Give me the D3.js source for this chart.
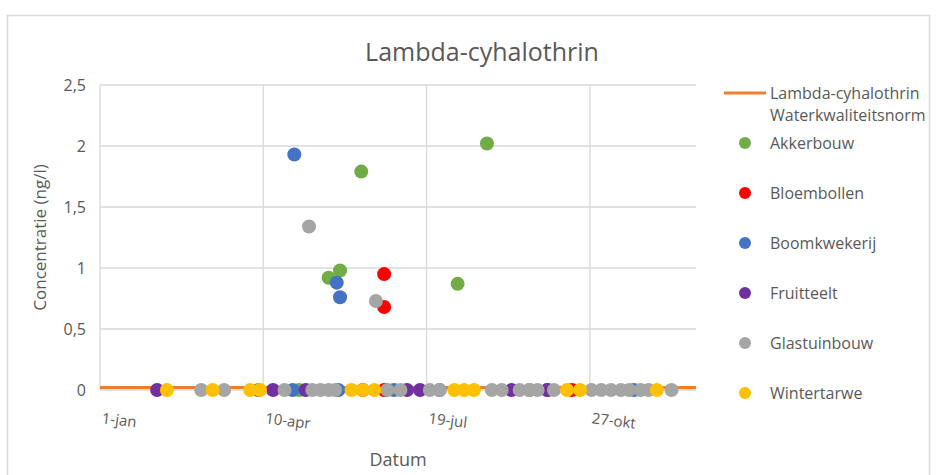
<!DOCTYPE html>
<html>
<head>
<meta charset="utf-8">
<script src="https://cdn.jsdelivr.net/npm/d3@7"></script>
<style>
  body { margin: 0; background: #fff; }
  text { font-family: "Open Sans", Lato, sans-serif; fill: #595959; }
</style>
</head>
<body>
<div id="chart"></div>
<script>
// data: day = days since 1-jan, value = concentration (ng/l)
const tickDays = [0, 100, 200, 300];
const tickLabels = ["1-jan", "10-apr", "19-jul", "27-okt"];
const yTicks = [0, 0.5, 1, 1.5, 2, 2.5];
const normValue = 0.02;

const akkerDays = [140, 147, 160, 219, 237, 122, 175, 263];
const akkerVals = [0.92, 0.98, 1.79, 0.87, 2.02, 0, 0, 0];
const bloemDays = [161, 174, 174, 174, 289];
const bloemVals = [0, 0, 0.95, 0.68, 0];
const boomDays = [97, 118, 119, 145, 147, 146, 180, 208, 274, 327];
const boomVals = [0, 0, 1.93, 0.88, 0.76, 0, 0, 0, 0, 0];
const fruitDays = [35, 106, 126, 188, 196, 252, 274];
const fruitVals = [0, 0, 0, 0, 0, 0, 0];
const glasDays = [62, 76, 113, 128, 130, 135, 140, 144, 169, 176, 184, 202, 208, 240, 246, 257, 263, 268, 278, 301, 307, 313, 319, 324, 331, 336, 350];
const glasVals = [0, 0, 0, 1.34, 0, 0, 0, 0, 0.73, 0, 0, 0, 0, 0, 0, 0, 0, 0, 0, 0, 0, 0, 0, 0, 0, 0, 0];
const tarweDays = [41, 69, 92, 98, 154, 161, 168, 217, 223, 229, 286, 294, 341];
const tarweVals = [0, 0, 0, 0, 0, 0, 0, 0, 0, 0, 0, 0, 0];

const seriesNames = ["Akkerbouw", "Bloembollen", "Boomkwekerij", "Fruitteelt", "Glastuinbouw", "Wintertarwe"];
const seriesColors = ["#70AD47", "#FF0000", "#4472C4", "#7030A0", "#A5A5A5", "#FFC000"];
const seriesDays = [akkerDays, bloemDays, boomDays, fruitDays, glasDays, tarweDays];
const seriesVals = [akkerVals, bloemVals, boomVals, fruitVals, glasVals, tarweVals];

const width = 937, height = 475;
const plot = {left: 100, right: 696, top: 85, bottom: 390};

var svg = d3.select("#chart").append("svg")
  .attr("width", width)
  .attr("height", height);

// chart frame
svg.append("rect")
  .attr("x", 7.5).attr("y", 15.5)
  .attr("width", 922).attr("height", 470)
  .attr("fill", "#fff")
  .attr("stroke", "#d9d9d9")
  .attr("stroke-width", 1.5);

var x = d3.scaleLinear().domain([0, 365]).range([plot.left, plot.right]);
var y = d3.scaleLinear().domain([0, 2.5]).range([plot.bottom, plot.top]);

// gridlines
svg.append("g").selectAll("line")
  .data(yTicks)
  .enter().append("line")
  .attr("x1", plot.left).attr("x2", plot.right)
  .attr("y1", d => y(d)).attr("y2", d => y(d))
  .attr("stroke", "#d9d9d9").attr("stroke-width", 1.3);

svg.append("g").selectAll("line")
  .data(tickDays)
  .enter().append("line")
  .attr("x1", d => x(d)).attr("x2", d => x(d))
  .attr("y1", plot.top).attr("y2", plot.bottom)
  .attr("stroke", "#d9d9d9").attr("stroke-width", 1.3);

// y tick labels
svg.append("g").selectAll("text")
  .data(yTicks)
  .enter().append("text")
  .attr("x", plot.left - 14)
  .attr("y", d => y(d))
  .attr("dy", "0.35em")
  .attr("text-anchor", "end")
  .style("font-size", "16px")
  .text(d => String(d).replace(".", ","));

// x tick labels (slightly rotated)
svg.append("g").selectAll("text")
  .data(tickDays)
  .enter().append("text")
  .attr("transform", (d, i) => `translate(${x(d) + 2}, 418) rotate(7)`)
  .attr("dy", "0.35em")
  .style("font-size", "15px")
  .text((d, i) => tickLabels[i]);

// norm line
svg.append("line")
  .attr("x1", x(0)).attr("x2", x(365))
  .attr("y1", y(normValue)).attr("y2", y(normValue))
  .attr("stroke", "#ED7D31").attr("stroke-width", 3);

// scatter series
seriesNames.forEach(function(name, i) {
  var pts = seriesDays[i].map((d, j) => ({day: d, value: seriesVals[i][j]}));
  svg.append("g").selectAll("circle")
    .data(pts)
    .enter().append("circle")
    .attr("cx", d => x(d.day))
    .attr("cy", d => y(d.value))
    .attr("r", 7)
    .attr("fill", seriesColors[i]);
});

// titles
svg.append("text")
  .attr("x", 482).attr("y", 61)
  .attr("text-anchor", "middle")
  .style("font-size", "25px")
  .text("Lambda-cyhalothrin");

svg.append("text")
  .attr("x", (plot.left + plot.right) / 2).attr("y", 466)
  .attr("text-anchor", "middle")
  .style("font-size", "18px")
  .text("Datum");

svg.append("text")
  .attr("transform", `translate(46, ${(plot.top + plot.bottom) / 2}) rotate(-90)`)
  .attr("text-anchor", "middle")
  .style("font-size", "17px")
  .text("Concentratie (ng/l)");

// legend
var legend = svg.append("g");
legend.append("line")
  .attr("x1", 724).attr("x2", 766)
  .attr("y1", 93).attr("y2", 93)
  .attr("stroke", "#ED7D31").attr("stroke-width", 3);
legend.append("text")
  .attr("x", 770).attr("y", 99)
  .style("font-size", "16px")
  .text("Lambda-cyhalothrin");
legend.append("text")
  .attr("x", 770).attr("y", 121)
  .style("font-size", "16px")
  .text("Waterkwaliteitsnorm");

seriesNames.forEach(function(name, i) {
  var ly = 143 + i * 50;
  legend.append("circle")
    .attr("cx", 745).attr("cy", ly)
    .attr("r", 6)
    .attr("fill", seriesColors[i]);
  legend.append("text")
    .attr("x", 770).attr("y", ly)
    .attr("dy", "0.35em")
    .style("font-size", "16px")
    .text(name);
});
</script>
</body>
</html>
